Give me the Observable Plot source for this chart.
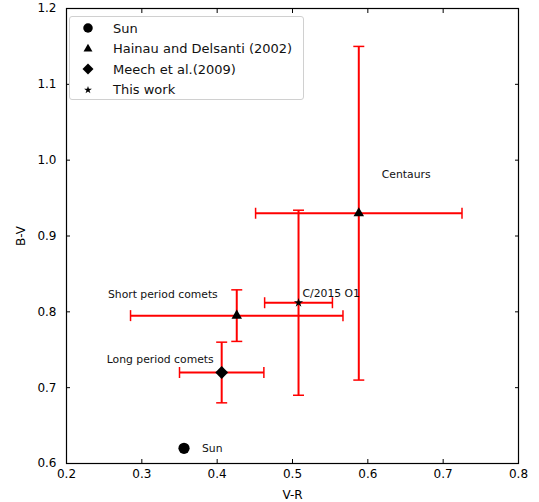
<!DOCTYPE html>
<html>
<head>
<meta charset="utf-8">
<script src="https://cdn.jsdelivr.net/npm/d3@7"></script>
<script src="https://cdn.jsdelivr.net/npm/@observablehq/plot@0.6"></script>
<style>
  body { margin: 0; background: white; font-family: "DejaVu Sans", sans-serif; }
  #wrap { position: relative; width: 539px; height: 502px; }
  #legend { position: absolute; left: 69px; top: 16px; width: 235px; height: 84px;
    border: 1px solid #d0d0d0; border-radius: 3px; background: rgba(255,255,255,0.9); box-sizing: border-box; }
  .row { position: absolute; left: 0; height: 20px; display: flex; align-items: center; font-size: 13px; color: #111; }
  .row svg { width: 36px; height: 20px; }
  .row span { margin-left: 7px; }
</style>
</head>
<body>
<div id="wrap"></div>
<script>
// ---- data ----
const names   = ["Centaurs", "Short period comets", "Long period comets", "C/2015 O1", "Sun"];
const sources = ["Hainau and Delsanti (2002)", "Hainau and Delsanti (2002)", "Meech et al.(2009)", "This work", "Sun"];
const vr      = [0.588, 0.426, 0.406, 0.508, 0.356];
const vrErr   = [0.137, 0.141, 0.056, 0.045, 0];
const bv      = [0.930, 0.795, 0.720, 0.812, 0.620];
const bvErr   = [0.220, 0.034, 0.040, 0.122, 0];
const xTicks  = [0.2, 0.3, 0.4, 0.5, 0.6, 0.7, 0.8];
const yTicks  = [0.6, 0.7, 0.8, 0.9, 1.0, 1.1, 1.2];
const legendItems = ["Sun", "Hainau and Delsanti (2002)", "Meech et al.(2009)", "This work"];

// ---- styling (not data) ----
const symbolOf = {"Sun": "circle", "Hainau and Delsanti (2002)": "triangle", "Meech et al.(2009)": "diamond2", "This work": "star"};
const rOf = {"Sun": 5.6, "Hainau and Delsanti (2002)": 3.9, "Meech et al.(2009)": 5.8, "This work": 2.9};
const labelStyle = {
  "Centaurs": {dx: 23, dy: -39, anchor: "start"},
  "Short period comets": {dx: -19, dy: -21, anchor: "end"},
  "Long period comets": {dx: -8, dy: -13, anchor: "end"},
  "C/2015 O1": {dx: 4, dy: -9, anchor: "start"},
  "Sun": {dx: 18, dy: 0, anchor: "start"}
};

const rows = names.map((n, i) => ({name: n, source: sources[i], vr: vr[i], vrErr: vrErr[i], bv: bv[i], bvErr: bvErr[i]}));
const errRows = rows.filter(d => d.vrErr > 0 || d.bvErr > 0);

const vbarSym = {draw(ctx, size) { const r = Math.sqrt(size / Math.PI); ctx.moveTo(0, -r); ctx.lineTo(0, r); }};
const hbarSym = {draw(ctx, size) { const r = Math.sqrt(size / Math.PI); ctx.moveTo(-r, 0); ctx.lineTo(r, 0); }};

const fmt = d3.format(".1f");
const marks = [
  Plot.frame({stroke: "black", strokeWidth: 1.2}),
  Plot.axisX(xTicks, {anchor: "bottom", tickSize: 0, tickPadding: 6, tickFormat: fmt, fontSize: 12,
    label: "V-R", labelAnchor: "center", labelOffset: 35, labelArrow: "none"}),
  Plot.axisX(xTicks, {anchor: "bottom", tickSize: -4, tickFormat: () => "", label: null}),
  Plot.axisX(xTicks, {anchor: "top", tickSize: -4, tickFormat: () => "", label: null}),
  Plot.axisY(yTicks, {anchor: "left", tickSize: 0, tickPadding: 10, tickFormat: fmt, fontSize: 12,
    label: "B-V", labelAnchor: "center", labelOffset: 50, labelArrow: "none"}),
  Plot.axisY(yTicks, {anchor: "left", tickSize: -4, tickFormat: () => "", label: null}),
  Plot.axisY(yTicks, {anchor: "right", tickSize: -4, tickFormat: () => "", label: null}),
  // error bars
  Plot.link(errRows, {x1: d => d.vr - d.vrErr, x2: d => d.vr + d.vrErr, y1: "bv", y2: "bv", stroke: "red", strokeWidth: 2}),
  Plot.link(errRows, {x1: "vr", x2: "vr", y1: d => d.bv - d.bvErr, y2: d => d.bv + d.bvErr, stroke: "red", strokeWidth: 2}),
  Plot.dot(errRows, {x: d => d.vr - d.vrErr, y: "bv", symbol: vbarSym, r: 5.5, stroke: "red", strokeWidth: 1.5}),
  Plot.dot(errRows, {x: d => d.vr + d.vrErr, y: "bv", symbol: vbarSym, r: 5.5, stroke: "red", strokeWidth: 1.5}),
  Plot.dot(errRows, {x: "vr", y: d => d.bv - d.bvErr, symbol: hbarSym, r: 5.5, stroke: "red", strokeWidth: 1.5}),
  Plot.dot(errRows, {x: "vr", y: d => d.bv + d.bvErr, symbol: hbarSym, r: 5.5, stroke: "red", strokeWidth: 1.5}),
];
for (const src of Object.keys(symbolOf)) {
  marks.push(Plot.dot(rows.filter(d => d.source === src), {x: "vr", y: "bv", symbol: symbolOf[src], r: rOf[src], fill: "black", stroke: null}));
}
for (const d of rows) {
  const s = labelStyle[d.name];
  marks.push(Plot.text([d], {x: "vr", y: "bv", text: "name", dx: s.dx, dy: s.dy, textAnchor: s.anchor, fontSize: 10.8, fill: "#111"}));
}

const chart = Plot.plot({
  width: 539, height: 502,
  marginLeft: 66, marginRight: 21, marginTop: 8, marginBottom: 39,
  x: {domain: [0.2, 0.8]},
  y: {domain: [0.6, 1.2]},
  style: {fontFamily: "DejaVu Sans", fontSize: "12px", background: "white", color: "black"},
  marks
});
const wrap = document.getElementById("wrap");
wrap.appendChild(chart);

// legend overlay
const legend = document.createElement("div");
legend.id = "legend";
legendItems.forEach((src, i) => {
  const row = document.createElement("div");
  row.className = "row";
  row.style.top = (i * 20.5 + 1) + "px";
  const r = rOf[src] * 0.85;
  const symName = {circle: d3.symbolCircle, triangle: d3.symbolTriangle, diamond2: d3.symbolDiamond2, star: d3.symbolStar}[symbolOf[src]];
  const path = d3.symbol(symName, Math.PI * r * r)();
  row.innerHTML = `<svg viewBox="-18 -10 36 20"><path d="${path}" fill="black"/></svg><span>${src}</span>`;
  legend.appendChild(row);
});
wrap.appendChild(legend);
</script>
</body>
</html>
